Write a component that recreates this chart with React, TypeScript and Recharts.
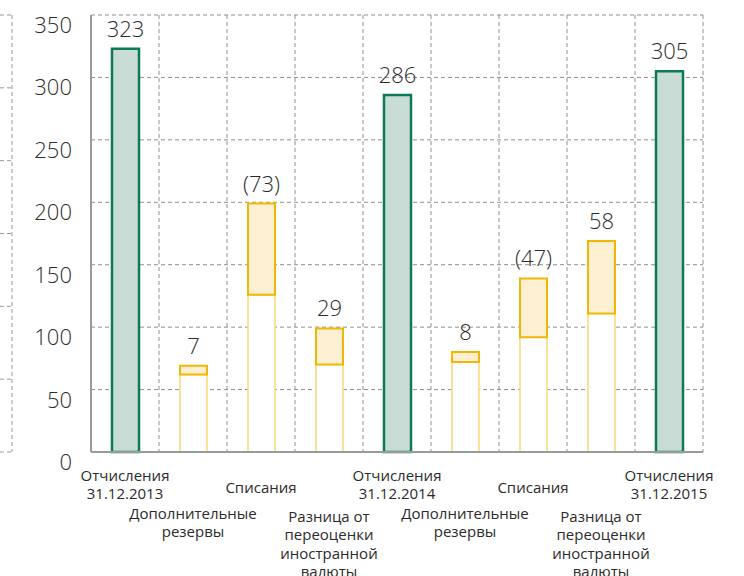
import React from "react";
import { ComposedChart, Bar, XAxis, YAxis, CartesianGrid, LabelList } from "recharts";

const categories = [
  "Отчисления\n31.12.2013",
  "Дополнительные\nрезервы",
  "Списания",
  "Разница от\nпереоценки\nиностранной\nвалюты",
  "Отчисления\n31.12.2014",
  "Дополнительные\nрезервы",
  "Списания",
  "Разница от\nпереоценки\nиностранной\nвалюты",
  "Отчисления\n31.12.2015",
];
const totals = [323, 0, 0, 0, 286, 0, 0, 0, 305];
const bases = [0, 62, 126, 70, 0, 72, 92, 111, 0];
const changes = [0, 7, -73, 29, 0, 8, -47, 58, 0];
const yTicks = [0, 50, 100, 150, 200, 250, 300, 350];

const data = categories.map((name, i) => ({
  name,
  base: bases[i],
  delta: Math.abs(changes[i]),
  total: totals[i],
  deltaLabel: changes[i] === 0 ? "" : changes[i] < 0 ? `(${-changes[i]})` : `${changes[i]}`,
  totalLabel: totals[i] ? `${totals[i]}` : "",
}));

const FONT = "'Open Sans', 'Noto Sans', sans-serif";
const TEXT = "#2b2b2b";

const firstLine = [21, 59, 33, 62];

const XTick = (props: any) => {
  const { x, y, payload, index } = props;
  const lines = String(payload.value).split("\n");
  const start = y + firstLine[index % 4];
  return (
    <text x={x} y={start} textAnchor="middle" fontFamily={FONT} fontSize={15} fontWeight={400} fill={TEXT}>
      {lines.map((l, k) => (
        <tspan key={k} x={x} y={start + k * 18.4} dominantBaseline="central">
          {l}
        </tspan>
      ))}
    </text>
  );
};

const YTick = (props: any) => {
  const { x, y, payload } = props;
  return (
    <text x={x} y={y + 9} textAnchor="end" dominantBaseline="central" fontFamily={FONT} fontSize={22} fontWeight={300} fill={TEXT}>
      {payload.value}
    </text>
  );
};

const fragData = [{ v: 0 }];

export default function App() {
  return (
    <div style={{ position: "absolute", left: 0, top: 0, width: 744, height: 576, background: "#fff" }}>
      <div style={{ position: "absolute", left: 0, top: 0 }}>
        <ComposedChart width={14} height={576} data={fragData} margin={{ top: 15, right: 2, left: 0, bottom: 124 }}>
          <XAxis hide dataKey="v" />
          <YAxis hide domain={[0, 6]} />
          <CartesianGrid
            stroke="#999"
            strokeDasharray="4 3"
            horizontalCoordinatesGenerator={({ offset }: any) =>
              [0, 1, 2, 3, 4, 5, 6].map((i) => offset.top + (i * offset.height) / 6)
            }
            verticalCoordinatesGenerator={({ offset }: any) => [offset.left + offset.width]}
          />
        </ComposedChart>
      </div>
      <div style={{ position: "absolute", left: 0, top: 0 }}>
        <ComposedChart
          width={744}
          height={576}
          data={data}
          margin={{ top: 15, right: 41, left: 0, bottom: 4 }}
          barSize={27}
        >
          <CartesianGrid
            stroke="#8f8f8f"
            strokeDasharray="4 3"
            verticalCoordinatesGenerator={({ offset }: any) =>
              Array.from({ length: 9 }, (_, i) => offset.left + ((i + 1) * offset.width) / 9)
            }
          />
          <XAxis
            dataKey="name"
            interval={0}
            height={120}
            tickLine={false}
            tickSize={0}
            axisLine={{ stroke: "#9a9a9a", strokeWidth: 2 }}
            tick={<XTick />}
          />
          <YAxis
            width={91}
            domain={[0, 350]}
            ticks={yTicks}
            tickLine={false}
            tickSize={0}
            tickMargin={19}
            axisLine={{ stroke: "#9a9a9a", strokeWidth: 2 }}
            tick={<YTick />}
          />
          <Bar dataKey="base" stackId="a" fill="#ffffff" stroke="#fbd878" strokeWidth={1.5} isAnimationActive={false} />
          <Bar dataKey="delta" stackId="a" fill="#fdefd2" stroke="#f2b705" strokeWidth={2} isAnimationActive={false}>
            <LabelList dataKey="deltaLabel" position="top" offset={12} fontFamily={FONT} fontSize={22} fontWeight={300} fill={TEXT} />
          </Bar>
          <Bar dataKey="total" stackId="a" fill="#c8ddd5" stroke="#0c7a5a" strokeWidth={2.5} isAnimationActive={false}>
            <LabelList dataKey="totalLabel" position="top" offset={12} fontFamily={FONT} fontSize={22} fontWeight={300} fill={TEXT} />
          </Bar>
        </ComposedChart>
      </div>
    </div>
  );
}
